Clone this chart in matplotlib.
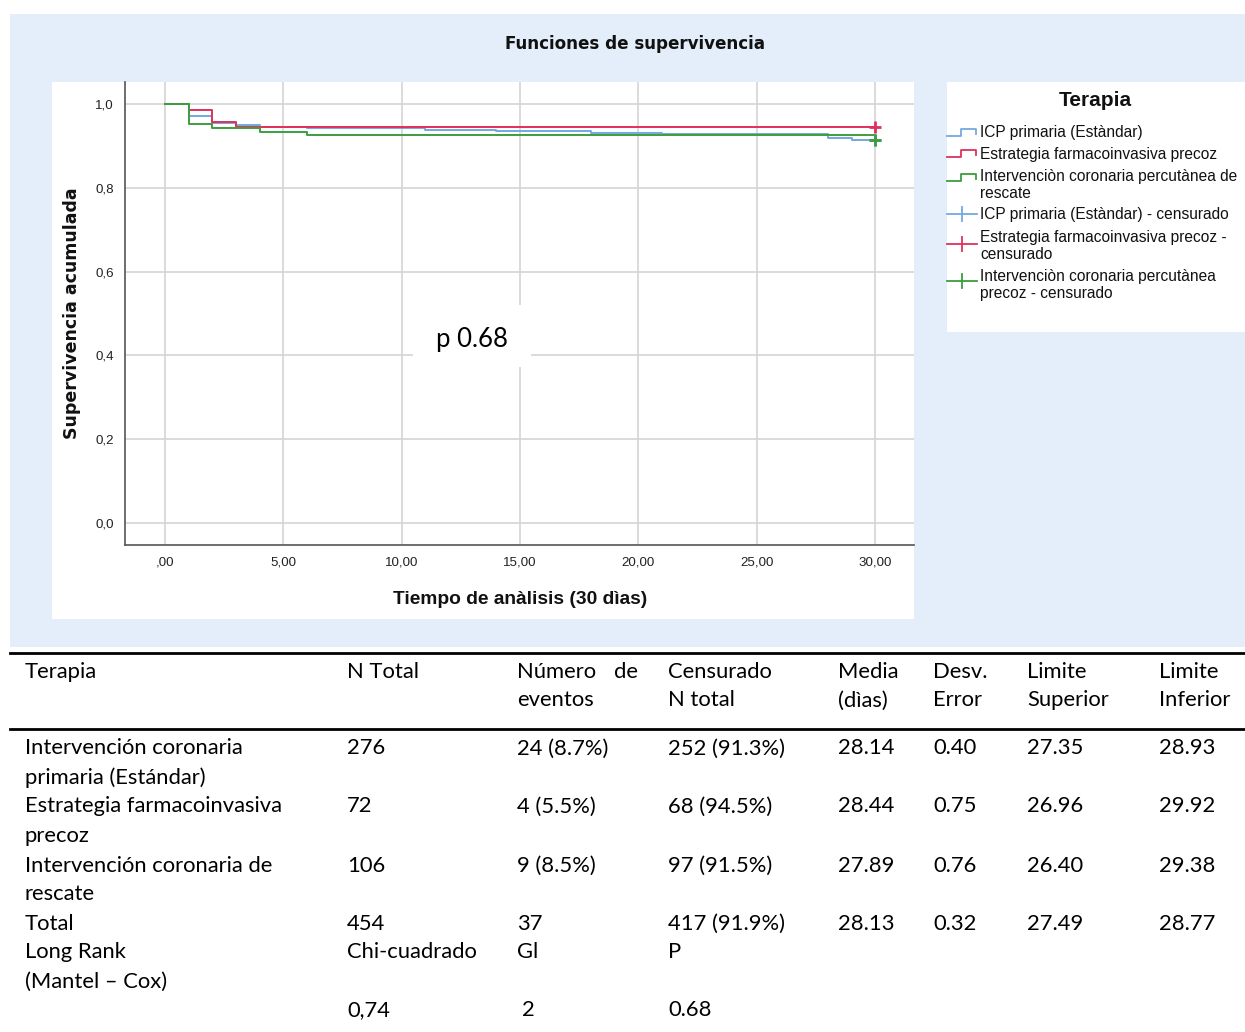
import matplotlib
matplotlib.use("Agg")
import matplotlib.pyplot as plt
from matplotlib.lines import Line2D
from matplotlib.patches import Rectangle

# ---------------- data ----------------
groups = ["ICP primaria (Estàndar)", "Estrategia farmacoinvasiva precoz",
          "Intervenciòn coronaria percutànea de rescate"]
t_blue = [0, 1, 2, 3, 4, 6, 11, 14, 18, 21, 28, 29]
s_blue = [1.0, 0.971, 0.955, 0.950, 0.946, 0.942, 0.938, 0.935, 0.931, 0.928, 0.920, 0.913]
t_red = [0, 1, 2, 3]
s_red = [1.0, 0.986, 0.958, 0.944]
t_green = [0, 1, 2, 4, 6, 30]
s_green = [1.0, 0.953, 0.943, 0.934, 0.925, 0.915]
t_end = 30
x_ticks = [0, 5, 10, 15, 20, 25, 30]
x_ticklabels = [",00", "5,00", "10,00", "15,00", "20,00", "25,00", "30,00"]
y_ticks = [0.0, 0.2, 0.4, 0.6, 0.8, 1.0]
y_ticklabels = ["0,0", "0,2", "0,4", "0,6", "0,8", "1,0"]

legend_labels = ["ICP primaria (Estàndar)", "Estrategia farmacoinvasiva precoz",
                 "Intervenciòn coronaria percutànea de\nrescate",
                 "ICP primaria (Estàndar) - censurado",
                 "Estrategia farmacoinvasiva precoz -\ncensurado",
                 "Intervenciòn coronaria percutànea\nprecoz - censurado"]

header = [["Terapia"], ["N Total"], ["Número", "eventos"], ["Censurado", "N total"],
          ["Media", "(dìas)"], ["Desv.", "Error"], ["Limite", "Superior"], ["Limite", "Inferior"]]
rows_terapia = [["Intervención coronaria", "primaria (Estándar)"],
                ["Estrategia farmacoinvasiva", "precoz"],
                ["Intervención coronaria de", "rescate"],
                ["Total"]]
n_total = ["276", "72", "106", "454"]
n_events = ["24 (8.7%)", "4 (5.5%)", "9 (8.5%)", "37"]
n_cens = ["252 (91.3%)", "68 (94.5%)", "97 (91.5%)", "417 (91.9%)"]
media = ["28.14", "28.44", "27.89", "28.13"]
desv = ["0.40", "0.75", "0.76", "0.32"]
lim_sup = ["27.35", "26.96", "26.40", "27.49"]
lim_inf = ["28.93", "29.92", "29.38", "28.77"]
logrank_chi = "0,74"
logrank_gl = "2"
logrank_p = "0.68"

# ---------------- figure ----------------
W, H = 1245, 1032
fig = plt.figure(figsize=(W / 100, H / 100), dpi=100)
fig.patch.set_facecolor("white")

def fx(px):
    return px / W

def fy(py):
    return 1 - py / H

SANS = ["Liberation Sans", "DejaVu Sans"]
WIDE = ["DejaVu Sans"]
TAB = ["Lato", "DejaVu Sans"]

# background panels
fig.add_artist(Rectangle((fx(10), fy(647)), fx(1245) - fx(10), fy(14) - fy(647),
                         transform=fig.transFigure, facecolor="#E3EEFA", edgecolor="none", zorder=-10))
fig.add_artist(Rectangle((fx(52), fy(619)), fx(914) - fx(52), fy(82) - fy(619),
                         transform=fig.transFigure, facecolor="white", edgecolor="none", zorder=-9))
fig.add_artist(Rectangle((fx(947), fy(332)), fx(1245) - fx(947), fy(82) - fy(332),
                         transform=fig.transFigure, facecolor="white", edgecolor="none", zorder=-9))

# axes
ax = fig.add_axes([fx(125), fy(545), fx(914) - fx(125), fy(82) - fy(545)])
ax.set_facecolor("none")
ax.set_xlim(-1.69, 31.64)
ax.set_ylim(-0.0525, 1.0525)
ax.set_xticks(x_ticks)
ax.set_xticklabels(x_ticklabels, family=SANS, fontsize=9.6, color="#222222")
ax.set_yticks(y_ticks)
ax.set_yticklabels(y_ticklabels, family=SANS, fontsize=9.6, color="#222222")
ax.tick_params(length=0, pad=8)
ax.grid(True, color="#D4D4D4", linewidth=1.2, zorder=0)
for s in ["top", "right"]:
    ax.spines[s].set_visible(False)
for s in ["left", "bottom"]:
    ax.spines[s].set_color("#555555")
    ax.spines[s].set_linewidth(1.2)

c_blue = "#74A8E0"
c_red = "#E0305A"
c_green = "#3C9E3C"

ax.step(t_blue + [t_end], s_blue + [s_blue[-1]], where="post", color=c_blue, lw=1.4, zorder=3)
ax.step(t_red + [t_end], s_red + [s_red[-1]], where="post", color=c_red, lw=1.4, zorder=3)
ax.step(t_green + [t_end], s_green + [s_green[-1]], where="post", color=c_green, lw=1.4, zorder=3)
ax.plot([t_end], [s_blue[-1]], marker="+", color=c_blue, ms=9, mew=2, zorder=4)
ax.plot([t_end], [s_red[-1]], marker="+", color=c_red, ms=9, mew=2, zorder=4)
ax.plot([t_end], [s_green[-1]], marker="+", color=c_green, ms=9, mew=2, zorder=5)

# p annotation
fig.add_artist(Rectangle((fx(413), fy(367)), fx(531) - fx(413), fy(305) - fy(367),
                         transform=fig.transFigure, facecolor="white", edgecolor="none", zorder=2))
fig.text(fx(472), fy(340), "p 0.68", family=TAB, fontsize=18.5, ha="center", va="center", zorder=3)

# titles
fig.text(fx(635), fy(44), "Funciones de supervivencia", family=WIDE, fontsize=12.1,
         fontweight="bold", ha="center", va="center", color="#111111")
fig.text(fx(72), fy(313), "Supervivencia acumulada", family=WIDE, fontsize=12.5,
         fontweight="bold", ha="center", va="center", rotation=90, color="#111111")
fig.text(fx(520), fy(599), "Tiempo de anàlisis (30 dìas)", family=SANS, fontsize=13.8,
         fontweight="bold", ha="center", va="center", color="#111111")

# legend
fig.text(fx(1095), fy(101), "Terapia", family=SANS, fontsize=15, fontweight="bold",
         ha="center", va="center", color="#111111")
leg_colors = [c_blue, c_red, c_green, c_blue, c_red, c_green]
leg_y = [133, 154, 176, 214, 237, 276]
leg_icon_y = [133, 154, 178, 214, 244, 281]
for i, (lab, col) in enumerate(zip(legend_labels, leg_colors)):
    yy = leg_y[i]
    nlines = lab.count("\n") + 1
    yc = yy + 9 * (nlines - 1)
    fig.text(fx(980), fy(yc), lab, family=SANS, fontsize=11.2, ha="left", va="center",
             linespacing=1.12, color="#111111")
    iy = leg_icon_y[i]
    if i < 3:
        xs = [947, 961, 961, 976, 976]
        ys = [iy + 3, iy + 3, iy - 4, iy - 4, iy + 1]
        fig.add_artist(Line2D([fx(v) for v in xs], [fy(v) for v in ys], color=col, lw=1.3,
                              transform=fig.transFigure))
    else:
        fig.add_artist(Line2D([fx(947), fx(977)], [fy(iy), fy(iy)], color=col, lw=1.3,
                              transform=fig.transFigure))
        fig.add_artist(Line2D([fx(962), fx(962)], [fy(iy - 7), fy(iy + 7)], color=col, lw=1.3,
                              transform=fig.transFigure))

# ---------------- table ----------------
fig.add_artist(Line2D([fx(10), fx(1245)], [fy(653), fy(653)], color="black", lw=2,
                      transform=fig.transFigure))
fig.add_artist(Line2D([fx(10), fx(1245)], [fy(729), fy(729)], color="black", lw=2,
                      transform=fig.transFigure))
col_x = [25, 347, 517, 668, 838, 933, 1027, 1159]
TFS = 15.8
DY = 1.5
for cx, lines in zip(col_x, header):
    for j, ln in enumerate(lines):
        fig.text(fx(cx), fy(670 + DY + 29 * j), ln, family=TAB, fontsize=TFS, ha="left", va="center")
fig.text(fx(638), fy(670 + DY), "de", family=TAB, fontsize=TFS, ha="right", va="center")

row_y = [747, 805, 864, 922]
for r in range(4):
    y0 = row_y[r] + DY
    for j, ln in enumerate(rows_terapia[r]):
        fig.text(fx(25), fy(y0 + 29 * j), ln, family=TAB, fontsize=TFS, ha="left", va="center")
    vals = [n_total[r], n_events[r], n_cens[r], media[r], desv[r], lim_sup[r], lim_inf[r]]
    for cx, v in zip(col_x[1:], vals):
        fig.text(fx(cx), fy(y0), v, family=TAB, fontsize=TFS, ha="left", va="center")

fig.text(fx(25), fy(951 + DY), "Long Rank", family=TAB, fontsize=TFS, ha="left", va="center")
fig.text(fx(25), fy(980 + DY), "(Mantel – Cox)", family=TAB, fontsize=TFS, ha="left", va="center")
fig.text(fx(347), fy(951 + DY), "Chi-cuadrado", family=TAB, fontsize=TFS, ha="left", va="center")
fig.text(fx(517), fy(951 + DY), "Gl", family=TAB, fontsize=TFS, ha="left", va="center")
fig.text(fx(668), fy(951 + DY), "P", family=TAB, fontsize=TFS, ha="left", va="center")
fig.text(fx(347), fy(1009 + DY), logrank_chi, family=TAB, fontsize=TFS, ha="left", va="center")
fig.text(fx(522), fy(1009 + DY), logrank_gl, family=TAB, fontsize=TFS, ha="left", va="center")
fig.text(fx(668), fy(1009 + DY), logrank_p, family=TAB, fontsize=TFS, ha="left", va="center")

fig.savefig("out.png", dpi=100)
